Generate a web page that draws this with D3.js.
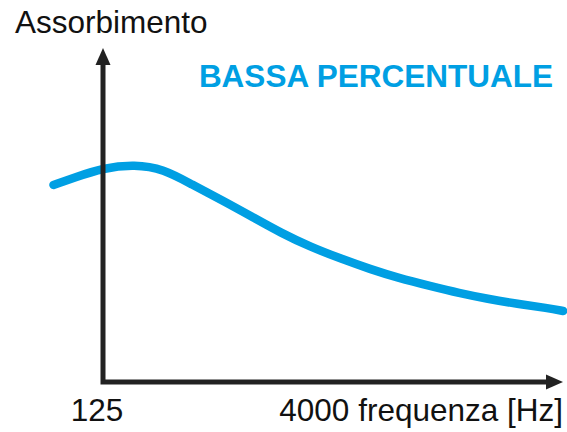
<!DOCTYPE html>
<html>
<head>
<meta charset="utf-8">
<script src="https://cdn.jsdelivr.net/npm/d3@7"></script>
<style>
  html, body { margin: 0; padding: 0; background: #fff; }
  svg { display: block; }
  text { font-family: "Liberation Sans", Arial, sans-serif; }
</style>
</head>
<body>
<svg id="chart" width="567" height="432"></svg>
<script>
// Frequency bands (Hz) along the curve
const frequencies = [85, 100, 125, 160, 200, 250, 315, 400, 500, 630, 800, 1000, 1250, 1600, 2000, 2500, 3150, 4000, 4500];
// Absorption coefficient (qualitative) for each band
const absorption = [0.619, 0.642, 0.672, 0.683, 0.669, 0.620, 0.572, 0.519, 0.469, 0.425, 0.388, 0.356, 0.328, 0.303, 0.281, 0.263, 0.247, 0.234, 0.225];
// Axis labels
const xTickLabels = ["125", "4000 frequenza [Hz]"];
const yTitle = "Assorbimento";
const seriesTitle = "BASSA PERCENTUALE";

const svg = d3.select("#chart");
const axisColor = "#222222";
const lineColor = "#009fe3";

const origin = { x: 103, y: 382 };

const x = d3.scaleLog().domain([125, 4000]).range([origin.x, 548]);
const y = d3.scaleLinear().domain([0, 1]).range([383, 63]);

// Curve
const line = d3.line()
  .x((d, i) => x(frequencies[i]))
  .y(d => y(d))
  .curve(d3.curveBasis);

svg.append("path")
  .datum(absorption)
  .attr("d", line)
  .attr("fill", "none")
  .attr("stroke", lineColor)
  .attr("stroke-width", 8.5)
  .attr("stroke-linecap", "round")
  .attr("stroke-linejoin", "round");

// Axes with arrow heads
const yTop = 48, xEnd = 563, headLen = 17, headHalf = 7.5;
svg.append("path")
  .attr("d", `M${origin.x},${yTop + headLen - 1} L${origin.x},${origin.y} L${xEnd - headLen + 1},${origin.y}`)
  .attr("fill", "none")
  .attr("stroke", axisColor)
  .attr("stroke-width", 5)
  .attr("stroke-linejoin", "miter")
  .attr("stroke-linecap", "butt");

svg.append("path")
  .attr("d", `M${origin.x},${yTop} L${origin.x + headHalf},${yTop + headLen} L${origin.x - headHalf},${yTop + headLen} Z`)
  .attr("fill", axisColor);

svg.append("path")
  .attr("d", `M${xEnd},${origin.y} L${xEnd - headLen},${origin.y - headHalf} L${xEnd - headLen},${origin.y + headHalf} Z`)
  .attr("fill", axisColor);

// Labels
svg.append("text")
  .attr("x", 15).attr("y", 33)
  .attr("font-size", 31.5)
  .attr("fill", "#111")
  .text(yTitle);

svg.append("text")
  .attr("x", 553).attr("y", 87)
  .attr("text-anchor", "end")
  .attr("font-size", 31.5)
  .attr("font-weight", "bold")
  .attr("fill", lineColor)
  .text(seriesTitle);

svg.append("text")
  .attr("x", x(125) - 6).attr("y", 421)
  .attr("text-anchor", "middle")
  .attr("font-size", 31.5)
  .attr("fill", "#111")
  .text(xTickLabels[0]);

svg.append("text")
  .attr("x", 563).attr("y", 421)
  .attr("text-anchor", "end")
  .attr("font-size", 31.5)
  .attr("fill", "#111")
  .text(xTickLabels[1]);
</script>
</body>
</html>
